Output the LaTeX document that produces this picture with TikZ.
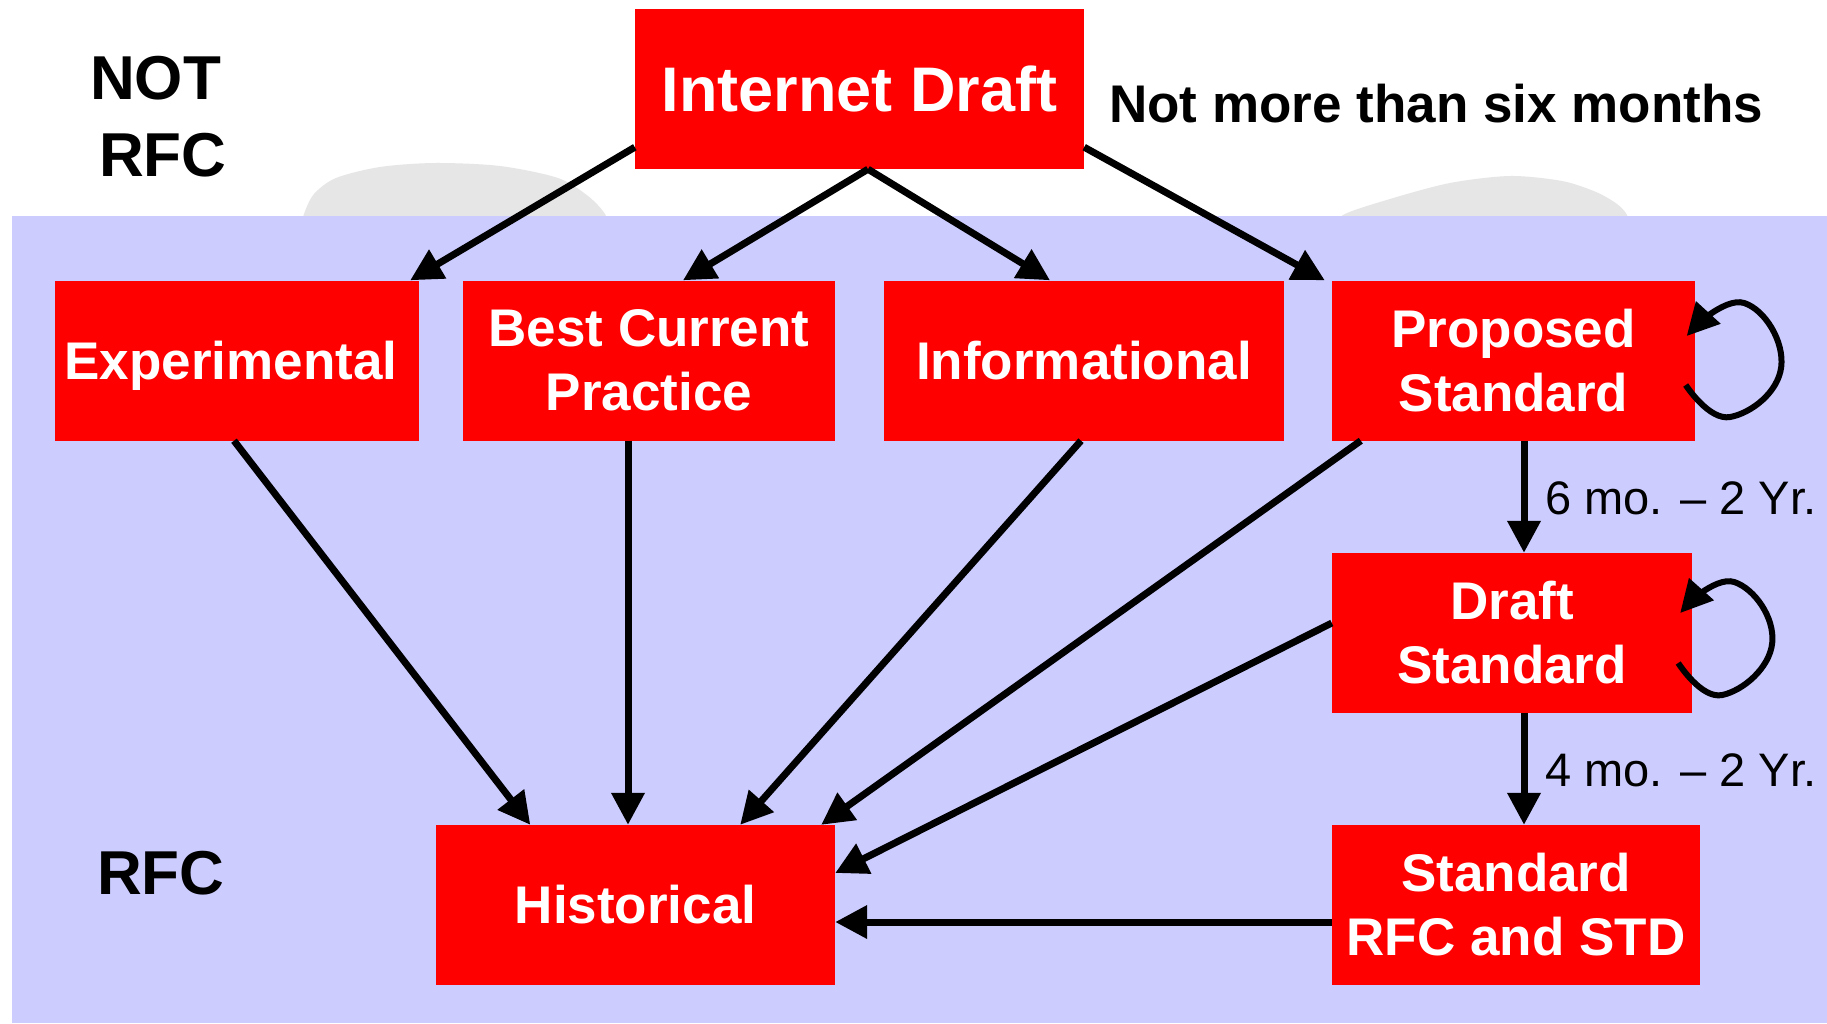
\documentclass[tikz,border=0pt]{standalone}
\usepackage{fontspec}
\setmainfont{Liberation Sans}
\usetikzlibrary{arrows.meta,calc}
\definecolor{boxred}{RGB}{255,0,0}
\definecolor{bgblue}{RGB}{204,204,255}
\definecolor{blobgray}{RGB}{230,230,230}
\tikzset{
  box/.style={fill=boxred, draw=none, inner sep=0pt, minimum height=160pt, align=center,
    text=white, font=\fontsize{53}{64}\selectfont\bfseries},
  conn/.style={line width=7pt, draw=black, -{Triangle[length=32pt,width=32pt]}},
  bigtxt/.style={inner sep=0pt, font=\fontsize{62}{74}\selectfont\bfseries},
  midtxt/.style={inner sep=0pt, font=\fontsize{53}{64}\selectfont\bfseries},
  durtxt/.style={inner sep=0pt, font=\fontsize{47}{56}\selectfont},
}
\begin{document}
\begin{tikzpicture}[x=1pt,y=-1pt]
\useasboundingbox (0,0) rectangle (1827,1023);
\fill[white] (0,0) rectangle (1827,1023);
% faint gray blobs
\fill[blobgray] plot[smooth] coordinates {(301,230) (304,214) (314,194) (336,178) (380,167) (435,163) (500,166) (558,178) (588,196) (605,214) (609,230)} -- cycle;
\fill[blobgray] plot[smooth] coordinates {(1338,230) (1343,215) (1390,199) (1450,183) (1510,176) (1562,181) (1596,192) (1617,204) (1627,215) (1630,230)} -- cycle;
% blue RFC region
\fill[bgblue] (11.5,215.5) rectangle (1827,1023);

% boxes
\node[box, minimum width=449pt, font=\fontsize{63}{74}\selectfont\bfseries] (id) at (859.5,89) {Internet Draft};
\node[box, minimum width=364pt, text depth=0pt] (exp) at (237,360.5) {\hspace*{-12pt}Experimental};
\node[box, minimum width=372pt] (bcp) at (649,360.5) {Best Current\\Practice};
\node[box, minimum width=400pt] (inf) at (1084,360.5) {Informational};
\node[box, minimum width=363pt] (prop) at (1513.5,360.5) {Proposed\\Standard};
\node[box, minimum width=360pt] (draft) at (1512,633) {Draft\\Standard};
\node[box, minimum width=368pt] (std) at (1516,905) {Standard\\RFC and STD};
\node[box, minimum width=399pt] (hist) at (635.5,905) {Historical};

% labels
\node[bigtxt, anchor=base west] (notlbl) at (90,99) {NOT};
\node[bigtxt, anchor=base west] (rfclbl) at (99,176) {RFC};
\node[bigtxt, anchor=base west] (rfcbot) at (97,894) {RFC};
\node[midtxt, anchor=base west] (sixm) at (1109,122) {Not more than six months};

% connectors
\draw[conn] ([yshift=22pt]id.south west) -- ([xshift=-9pt]exp.north east);
\draw[conn] ([xshift=8.5pt]id.south) -- ([xshift=34pt]bcp.north);
\draw[conn] ([xshift=8.5pt]id.south) -- ([xshift=-34pt]inf.north);
\draw[conn] ([yshift=22pt]id.south east) -- ([xshift=-7pt]prop.north west);

\draw[conn] ([xshift=-3pt]exp.south) -- ([xshift=94.5pt]hist.north west);
\draw[conn] ([xshift=-21pt]bcp.south) -- ([xshift=-7.5pt]hist.north);
\draw[conn] ([xshift=-3pt]inf.south) -- ([xshift=-95pt]hist.north east);
\draw[conn] ([xshift=29pt]prop.south west) -- ([xshift=-14pt]hist.north east);
\draw[conn] ([yshift=10pt]draft.west) -- ([yshift=32pt]hist.east);
\draw[conn] ([yshift=-17pt]std.west) -- ([yshift=-17pt]hist.east);

\draw[conn] ([xshift=10.5pt]prop.south) -- ([xshift=12pt]draft.north)
  node[durtxt, pos=0.66, anchor=base west, xshift=18pt] (dur1) {6 mo. -- 2 Yr.};
\draw[conn] ([xshift=12pt]draft.south) -- ([xshift=8pt]std.north)
  node[durtxt, pos=0.66, anchor=base west, xshift=18pt] (dur2) {4 mo. -- 2 Yr.};

% self loops
\begin{scope}[shift={(prop.east)}]
\draw[conn, line width=6pt] plot[smooth, tension=0.8] coordinates {(-9.5,24.5) (35,56.5) (86,6.5) (49,-57.5) (-8.5,-24.5)};
\end{scope}
\begin{scope}[shift={(draft.east)}]
\draw[conn, line width=6pt] plot[smooth, tension=0.8] coordinates {(-14,30) (30,62) (80,10) (42,-51) (-12,-20)};
\end{scope}
\end{tikzpicture}
\end{document}
